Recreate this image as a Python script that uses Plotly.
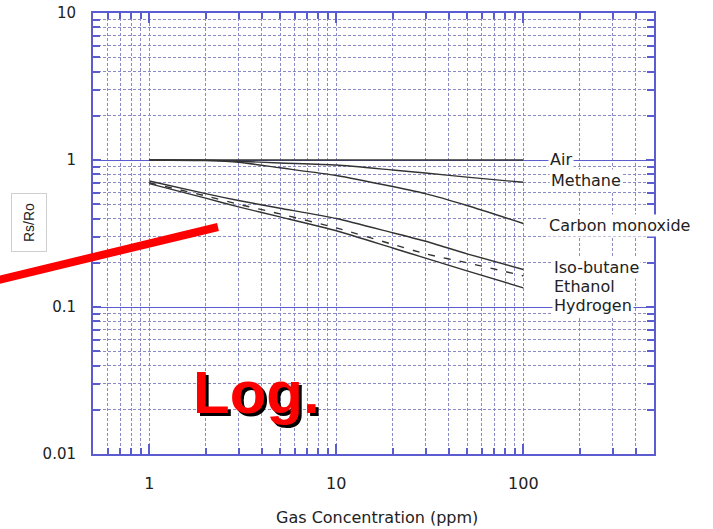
import plotly.graph_objects as go

# ---- data ----
conc = [1, 2, 3, 5, 10, 20, 30, 50, 100]
air = [1.0, 1.0, 1.0, 1.0, 1.0, 1.0, 1.0, 1.0, 1.0]
methane = [1.0, 0.995, 0.98, 0.955, 0.925, 0.855, 0.815, 0.765, 0.705]
carbon_monoxide = [1.0, 0.99, 0.965, 0.885, 0.785, 0.66, 0.59, 0.49, 0.37]
iso_butane = [0.72, 0.59, 0.53, 0.47, 0.40, 0.32, 0.28, 0.23, 0.18]
ethanol = [0.70, 0.57, 0.50, 0.43, 0.345, 0.267, 0.23, 0.20, 0.163]
hydrogen = [0.69, 0.55, 0.48, 0.41, 0.33, 0.252, 0.215, 0.176, 0.135]

series_names = ["Air", "Methane", "Carbon monoxide", "Iso-butane", "Ethanol", "Hydrogen"]
series_values = [air, methane, carbon_monoxide, iso_butane, ethanol, hydrogen]
series_dash = ["solid", "solid", "solid", "solid", "7px,9px", "solid"]

x_major = [1, 10, 100]
x_major_text = ["1", "10", "100"]
x_minor = [0.6, 0.7, 0.8, 0.9, 2, 3, 4, 5, 6, 7, 8, 9,
           20, 30, 40, 50, 60, 70, 80, 90, 200, 300, 400]
y_major = [0.01, 0.1, 1, 10]
y_major_text = ["0.01", "0.1", "1", "10"]
y_minor = [0.02, 0.03, 0.04, 0.05, 0.06, 0.07, 0.08, 0.09,
           0.2, 0.3, 0.4, 0.5, 0.6, 0.7, 0.8, 0.9,
           2, 3, 4, 5, 6, 7, 8, 9]

# label positions (pixel coords of the 713x529 figure), left edge & vertical centre
label_px = [(548, 159), (549, 180), (547, 225), (552, 267), (552, 286), (552, 305)]

W, H = 713, 529
L, R, T, B = 93, 59, 13, 75
PW, PH = W - L - R, H - T - B


def px2paper(px, py):
    return (px - L) / PW, (H - B - py) / PH


BLUE = "#5c5cd2"
GRID = "#8a8ac6"
LINE = "#333333"
FONT = "DejaVu Sans"

fig = go.Figure()
for name, vals, dash in zip(series_names, series_values, series_dash):
    fig.add_trace(go.Scatter(x=conc, y=vals, mode="lines", name=name,
                             line=dict(color=LINE, width=1.4, dash=dash, shape="spline",
                                       smoothing=0.6)))

fig.update_xaxes(
    type="log", range=[-0.30103, 2.69897], automargin=False,
    tickvals=x_major, ticktext=x_major_text,
    ticks="inside", ticklen=10, tickcolor=BLUE, tickwidth=1.5,
    showline=True, linecolor=BLUE, linewidth=2, mirror="ticks",
    showgrid=True, gridcolor=GRID, griddash="3px,2px", gridwidth=1,
    zeroline=False,
    tickfont=dict(family=FONT, size=16, color="#222"),
    ticklabelstandoff=14,
    minor=dict(tickvals=x_minor, ticks="inside", ticklen=6, tickcolor=BLUE,
               showgrid=True, gridcolor=GRID, griddash="3px,2px", gridwidth=1),
)
fig.update_yaxes(
    type="log", range=[-2, 1], automargin=False,
    tickvals=y_major, ticktext=y_major_text,
    ticks="inside", ticklen=8, tickcolor=BLUE, tickwidth=1.5,
    showline=True, linecolor=BLUE, linewidth=2, mirror="ticks",
    showgrid=True, gridcolor=BLUE, gridwidth=1.3,
    zeroline=False,
    tickfont=dict(family=FONT, size=15, color="#222"),
    ticklabelstandoff=12,
    minor=dict(tickvals=y_minor, ticks="inside", ticklen=7, tickcolor=BLUE,
               showgrid=True, gridcolor=GRID, griddash="3px,2px", gridwidth=1),
)

annotations = []
for name, (px, py) in zip(series_names, label_px):
    ax, ay = px2paper(px, py)
    annotations.append(dict(x=ax, y=ay, xref="paper", yref="paper", text=name,
                            showarrow=False, xanchor="left", yanchor="middle",
                            bgcolor="white", borderpad=1,
                            font=dict(family=FONT, size=16, color="#222")))

# x-axis title
tx, ty = px2paper(377, 517)
annotations.append(dict(x=tx, y=ty, xref="paper", yref="paper",
                        text="Gas Concentration (ppm)", showarrow=False,
                        xanchor="center", yanchor="middle",
                        font=dict(family=FONT, size=16, color="#222")))
# y-axis title in a box
yx, yy = px2paper(29, 223)
annotations.append(dict(x=yx, y=yy, xref="paper", yref="paper", text="Rs/Ro",
                        showarrow=False, textangle=-90, xanchor="center",
                        yanchor="middle", bgcolor="white", bordercolor="#cfcfcf",
                        borderwidth=1, borderpad=9,
                        font=dict(family="Liberation Sans", size=14, color="#222")))
# "Log." with drop shadow
lx, ly = px2paper(256, 392)
annotations.append(dict(x=lx, y=ly, xref="paper", yref="paper", text="<b>Log.</b>",
                        showarrow=False, xanchor="center", yanchor="middle",
                        font=dict(family="Liberation Sans", size=60, color="#ff0000",
                                  shadow="3px 3px 0px #000000")))

x0, y0 = px2paper(-2, 280)
x1, y1 = px2paper(218, 227)
fig.add_shape(type="line", xref="paper", yref="paper", x0=x0, y0=y0, x1=x1, y1=y1,
              line=dict(color="#ff0000", width=8), layer="above")

fig.update_layout(
    width=W, height=H, margin=dict(l=L, r=R, t=T, b=B, autoexpand=False),
    plot_bgcolor="white", paper_bgcolor="white", showlegend=False,
    annotations=annotations,
    font=dict(family=FONT, color="#222"),
)

fig.write_html("out.html", config={"displayModeBar": False},
               post_script="document.body.style.margin='0px';")
